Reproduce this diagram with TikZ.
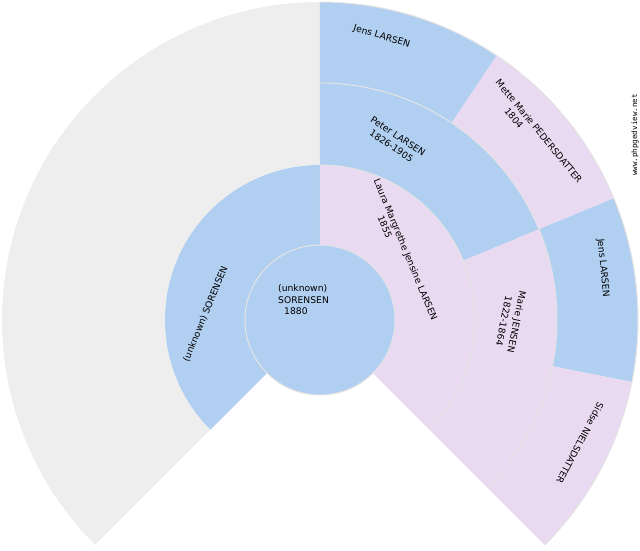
\documentclass[tikz,border=0pt]{standalone}
\usepackage{fontspec}
\setmainfont{DejaVu Sans}
\setmonofont{DejaVu Sans Mono}
\definecolor{malebg}{HTML}{B1CFF0}
\definecolor{femalebg}{HTML}{E9DAF1}
\definecolor{nobodybg}{HTML}{EEEEEE}
\definecolor{ringgray}{HTML}{E4E4E4}

\begin{document}
\begin{tikzpicture}[x=1pt, y=1pt,
    male/.style={fill=malebg},
    female/.style={fill=femalebg},
    nobody/.style={fill=nobodybg},
    ringline/.style={draw=ringgray, line width=1pt},
    person/.style={inner sep=0pt, font=\fontsize{9.2}{11}\selectfont},
    mark text/.style={inner sep=0pt, font=\ttfamily\fontsize{7.5}{9}\selectfont}
  ]
    \useasboundingbox (-320,-230) rectangle (320,320);

    % Empty branch of the father
    \fill[nobody] (90:155) arc[start angle=90, end angle=225, radius=155] -- (225:318) arc[start angle=225, end angle=90, radius=318] -- cycle;

    % Generation 1
    \fill[male] (90:75) arc[start angle=90, end angle=225, radius=75] -- (225:155) arc[start angle=225, end angle=90, radius=155] -- cycle;
    \fill[female] (90:75) arc[start angle=90, end angle=-45, radius=75] -- (-45:155) arc[start angle=-45, end angle=90, radius=155] -- cycle;

    % Generation 2
    \fill[male] (90:155) arc[start angle=90, end angle=22.5, radius=155] -- (22.5:237) arc[start angle=22.5, end angle=90, radius=237] -- cycle;
    \fill[female] (22.5:155) arc[start angle=22.5, end angle=-45, radius=155] -- (-45:237) arc[start angle=-45, end angle=22.5, radius=237] -- cycle;

    % Generation 3
    \fill[male] (90:237) arc[start angle=90, end angle=56.25, radius=237] -- (56.25:318) arc[start angle=56.25, end angle=90, radius=318] -- cycle;
    \fill[female] (56.25:237) arc[start angle=56.25, end angle=22.5, radius=237] -- (22.5:318) arc[start angle=22.5, end angle=56.25, radius=318] -- cycle;
    \fill[male] (22.5:237) arc[start angle=22.5, end angle=-11.25, radius=237] -- (-11.25:318) arc[start angle=-11.25, end angle=22.5, radius=318] -- cycle;
    \fill[female] (-11.25:237) arc[start angle=-11.25, end angle=-45, radius=237] -- (-45:318) arc[start angle=-45, end angle=-11.25, radius=318] -- cycle;

    % Ring borders
    \draw[ringline] (90:155) arc[start angle=90, end angle=-45, radius=155];
    \draw[ringline] (90:237) arc[start angle=90, end angle=-45, radius=237];
    \draw[ringline] (90:318) arc[start angle=90, end angle=-45, radius=318];

    % Root person
    \filldraw[male, ringline] (0,0) circle[radius=75];
    \node[person, anchor=base west] (rootname) at (-42,28.5) {(unknown)};
    \node[person, anchor=base west] (rootsurname) at (-42,17) {SORENSEN};
    \node[person, anchor=base west] (rootdate) at (-36,5.5) {1880};

    % Parents
    \node[person, rotate=67.5] (father) at (-114.5,6) {(unknown) SORENSEN};
    \node[person, rotate=-67.5] (mother) at (85,70) {Laura Margrethe Jensine LARSEN};
    \node[person, rotate=-67.5] (motherdate) at (65,93) {1855};

    % Grandparents
    \node[person, rotate=-33.75] (mgfather) at (78,184) {Peter LARSEN};
    \node[person, rotate=-33.75] (mgfatherdate) at (71.5,174) {1826-1905};
    \node[person, rotate=-101.25] (mgmother) at (196,-2) {Marie JENSEN};
    \node[person, rotate=-101.25] (mgmotherdate) at (184,-1) {1822-1864};

    % Great-grandparents
    \node[person, rotate=-16.875] (ggf1) at (61.7,283.3) {Jens LARSEN};
    \node[person, rotate=-50.625] (ggm1) at (219,189) {Mette Marie PEDERSDATTER};
    \node[person, rotate=-50.625] (ggm1date) at (194,202) {1804};
    \node[person, rotate=-84.375] (ggf2) at (283,52) {Jens LARSEN};
    \node[person, rotate=-118.125] (ggm2) at (260,-123) {Sidse NIELSDATTER};

    % Site mark
    \node[mark text, rotate=90] (sitemark) at (315,185) {www.phpgedview.net};
\end{tikzpicture}
\end{document}
